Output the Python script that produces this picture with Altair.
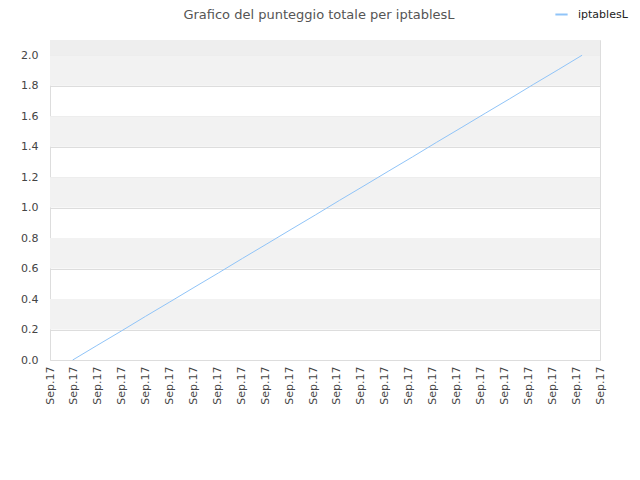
import altair as alt
import pandas as pd

x_pos = [0.95, 1.96, 2.98, 3.99, 5.01, 6.02, 7.04, 8.05, 9.07, 10.08, 11.1,
         12.11, 13.13, 14.14, 15.16, 16.17, 17.19, 18.2, 19.22, 20.23, 21.25, 22.25]
scores = [0.0, 0.095, 0.19, 0.286, 0.381, 0.476, 0.571, 0.667, 0.762, 0.857, 0.952,
          1.048, 1.143, 1.238, 1.333, 1.429, 1.524, 1.619, 1.714, 1.81, 1.905, 2.0]
series = ["iptablesL"] * len(scores)
tick_label = "Sep.17"
tick_positions = list(range(0, 24))
y_ticks = [0.0, 0.2, 0.4, 0.6, 0.8, 1.0, 1.2, 1.4, 1.6, 1.8, 2.0]
band_lo = [0.2, 0.6, 1.0, 1.4, 1.8, 2.0]
band_hi = [0.4, 0.8, 1.2, 1.6, 2.0, 2.1]
band_col = ["#f2f2f2", "#f2f2f2", "#f2f2f2", "#f2f2f2", "#f2f2f2", "#eeeeee"]
title_text = "Grafico del punteggio totale per iptablesL"

df = pd.DataFrame({"x": x_pos, "y": scores, "s": series})
bands = pd.DataFrame({"lo": band_lo, "hi": band_hi, "c": band_col})

xs = alt.Scale(domain=[0, 23], nice=False, zero=False)
ys = alt.Scale(domain=[0, 2.1], nice=False)
yaxis = alt.Axis(values=y_ticks, format=".1f", labelFont="DejaVu Sans",
                 labelFontSize=11, labelColor="#444444", gridColor="#dddddd",
                 ticks=False, domain=False, labelPadding=12)

band_layer = alt.Chart(bands).mark_rect().encode(
    x=alt.value(0), x2=alt.value(550),
    y=alt.Y("lo:Q", scale=ys, title=None, axis=yaxis),
    y2="hi:Q",
    color=alt.Color("c:N", scale=None),
)

line = alt.Chart(df).mark_line(strokeWidth=1).encode(
    x=alt.X("x:Q", scale=xs, title=None,
            axis=alt.Axis(values=tick_positions, labelExpr=f"'{tick_label}'",
                          labelAngle=-90, labelAlign="right", labelBaseline="middle",
                          labelFont="DejaVu Sans", labelFontSize=11, labelColor="#444444",
                          grid=False, ticks=False, domain=False, labelPadding=6)),
    y=alt.Y("y:Q", scale=ys, title=None, axis=yaxis),
    color=alt.Color("s:N", scale=alt.Scale(range=["#90c4f8"]),
                    legend=alt.Legend(title=None, orient="none", legendX=504, legendY=-33,
                                      symbolType="stroke", symbolSize=150,
                                      symbolStrokeWidth=2, labelOffset=9,
                                      labelFont="DejaVu Sans", labelFontSize=11,
                                      labelColor="#222222")),
)

title_layer = alt.Chart(pd.DataFrame({"t": [title_text]})).mark_text(
    font="DejaVu Sans", fontSize=13, color="#555555", align="center", baseline="alphabetic"
).encode(x=alt.value(269), y=alt.value(-21), text="t:N")

chart = alt.layer(band_layer, line, title_layer).properties(
    width=550, height=320,
    autosize=alt.AutoSizeParams(type="none"),
    padding={"left": 42, "top": 32, "right": 32, "bottom": 112},
).configure_view(stroke="#dddddd")

chart.save("out.html", embed_options={"renderer": "svg", "actions": False})
